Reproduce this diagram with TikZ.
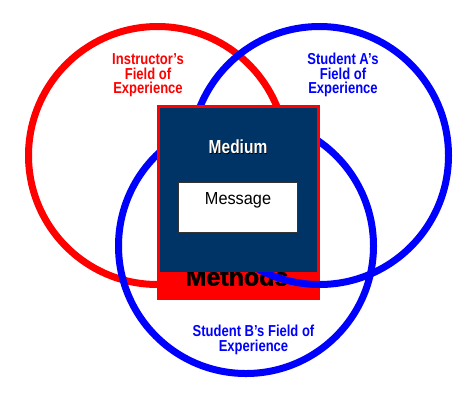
\documentclass[tikz,border=0pt]{standalone}
\usepackage{fontspec}
\usepackage{graphicx}
\setmainfont{Liberation Sans}
\newfontfamily\heavyfont{Liberation Sans Bold}[FakeBold=1.6]
\definecolor{navy}{RGB}{0,51,102}
\definecolor{ringred}{RGB}{255,0,0}
\definecolor{ringblue}{RGB}{0,0,255}
\newcommand{\tallx}[1]{\scalebox{1}[1.22]{#1}}
\begin{document}
\begin{tikzpicture}[x=1pt,y=-1pt,
  ring/.style={line width=7pt},
  fieldlabel/.style={font=\fontsize{13}{14.5}\selectfont\bfseries, anchor=base, inner sep=0pt},
]
\useasboundingbox (0,0) rectangle (473,400);
\coordinate (cI) at (157.5,155.5);
\coordinate (cA) at (319.5,155.5);
\coordinate (cB) at (246,246);
% circles
\draw[ring, ringred] (cI) circle[radius=129];
\draw[ring, ringblue] (cA) circle[radius=129];
\draw[ring, ringblue] (cB) circle[radius=127.5];
% methods box
\node[fill=ringred, inner sep=0pt, minimum width=163pt, minimum height=195pt, anchor=north west] (methodsbox) at (157,105) {};
\node[font=\heavyfont\fontsize{25}{25}\selectfont, anchor=base, inner sep=0pt] (methods) at (237,285.5) {Methods};
\begin{scope}
  \clip (157,272) rectangle (320,300);
  \draw[ring, ringblue] (cA) circle[radius=129];
\end{scope}
% medium
\node[fill=navy, inner sep=0pt, minimum width=157pt, minimum height=164pt, anchor=north west] (medium) at (160,108) {};
\node[font=\fontsize{15.5}{15.5}\selectfont\bfseries, text=black, inner sep=0pt, anchor=base] at (238.7,154.2) {\tallx{Medium}};
\node[font=\fontsize{15.5}{15.5}\selectfont\bfseries, text=white, inner sep=0pt, anchor=base] (mediumlabel) at (238,153.5) {\tallx{Medium}};
\node[fill=white, draw=black!80, line width=1pt, inner sep=0pt, minimum width=119pt, minimum height=50pt, anchor=north west] (message) at (178,182) {};
\node[font=\fontsize{16.3}{16}\selectfont, inner sep=0pt, anchor=base] (messagelabel) at (238,204.2) {\scalebox{1}[1.07]{Message}};
% labels
\node[fieldlabel, text=ringred] (instr1) at (148,64.5) {\tallx{Instructor's}};
\node[fieldlabel, text=ringred] (instr2) at (148,79) {\tallx{Field of}};
\node[fieldlabel, text=ringred] (instr3) at (148,93.5) {\tallx{Experience}};
\node[fieldlabel, text=ringblue] (studA1) at (343,64.5) {\tallx{Student A's}};
\node[fieldlabel, text=ringblue] (studA2) at (343,79) {\tallx{Field of}};
\node[fieldlabel, text=ringblue] (studA3) at (343,93.5) {\tallx{Experience}};
\node[fieldlabel, text=ringblue] (studB1) at (253.5,336.5) {\tallx{Student B's Field of}};
\node[fieldlabel, text=ringblue] (studB2) at (253.5,351.5) {\tallx{Experience}};
\end{tikzpicture}
\end{document}
